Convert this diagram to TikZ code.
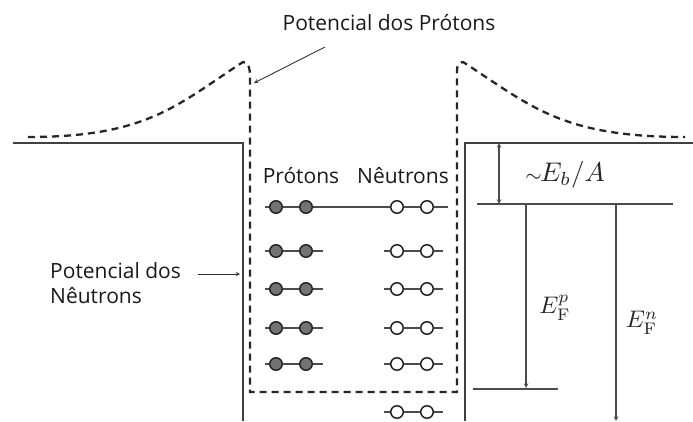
\documentclass[tikz,border=0pt]{standalone}
\usepackage{fontspec}
\newfontfamily\labelfont{Open Sans}
\tikzset{>=stealth}

\begin{document}
\begin{tikzpicture}[x=1pt, y=-1pt,
    wall/.style = {line width=1.4pt, black!75},
    pot/.style = {line width=2.3pt, black!85, dash pattern=on 7pt off 5pt},
    level/.style = {line width=1.1pt, black!70},
    proton/.style = {circle, draw=black!85, fill=black!55, line width=1.5pt, inner sep=0pt, minimum size=12.5pt},
    neutron/.style = {proton, fill=white},
    lbl/.style = {font=\labelfont\fontsize{21}{25}\selectfont, text=black!90, inner sep=0pt}]
    \useasboundingbox (0,0) rectangle (693,421);

    \draw[wall] (13,143) -- (243,143) -- (243,421);
    \draw[wall] (693,143) -- (465,143) -- (465,421);

    \draw[pot] (28,137) .. controls (147,137) and (177,105) .. (243,62) to[out=0, in=90] (250,76)
        -- (250,392) -- (457,392) -- (457,70) to[out=90, in=180] (463,62)
        .. controls (530,105) and (560,137) .. (685,137);

    \draw[level] (265,207) -- (448,207);
    \foreach \y in {251,289,328,364}{
        \draw[level] (265,\y) -- (323,\y);
        \draw[level] (384,\y) -- (443,\y);
    }
    \draw[level] (384,412) -- (443,412);
    \foreach \y [count=\i] in {207,251,289,328,364}{
        \node[proton] (p\i a) at (276,\y) {};
        \node[proton] (p\i b) at (306,\y) {};
        \node[neutron] (n\i a) at (397,\y) {};
        \node[neutron] (n\i b) at (427,\y) {};
    }
    \node[neutron] (n6a) at (397,412) {};
    \node[neutron] (n6b) at (427,412) {};

    \node[lbl] (prot) at (301,176) {Prótons};
    \node[lbl] (neut) at (403,176) {Nêutrons};

    \node[lbl] (ptitle) at (389,23) {Potencial dos Prótons};
    \coordinate (pfrom) at (325,47);
    \coordinate (pto) at (254,83);
    \draw[->, line width=0.9pt, black!80] (pfrom) -- (pto);

    \node[lbl, align=left, anchor=west] (ntitle) at (50,283) {Potencial dos\\Nêutrons};
    \coordinate (nfrom) at (198,274);
    \coordinate (nto) at (240,274);
    \draw[->, line width=0.9pt, black!80] (nfrom) -- (nto);

    \coordinate (btop) at (499,143);
    \coordinate (bbot) at (499,204);
    \draw[<->, level] (btop) -- (bbot);
    \node[scale=2.7, text=black!85] (eb) at (565,175) {${\scriptstyle\sim}\mkern-1mu E_b/A$};

    \coordinate (fl) at (477,204);
    \coordinate (fr) at (673,204);
    \draw[level] (fl) -- (fr);
    \coordinate (pl) at (473,389);
    \coordinate (pr) at (558,389);
    \draw[level] (pl) -- (pr);
    \coordinate (pa) at (526,204);
    \coordinate (pb) at (526,388);
    \draw[->, level] (pa) -- (pb);
    \coordinate (na) at (616,204);
    \coordinate (nb) at (616,421);
    \draw[->, level] (na) -- (nb);
    \node[scale=2.4, text=black!85] (efp) at (555,308) {$E_{\mathrm{F}}^{p}$};
    \node[scale=2.4, text=black!85] (efn) at (642,323) {$E_{\mathrm{F}}^{n}$};
\end{tikzpicture}
\end{document}
